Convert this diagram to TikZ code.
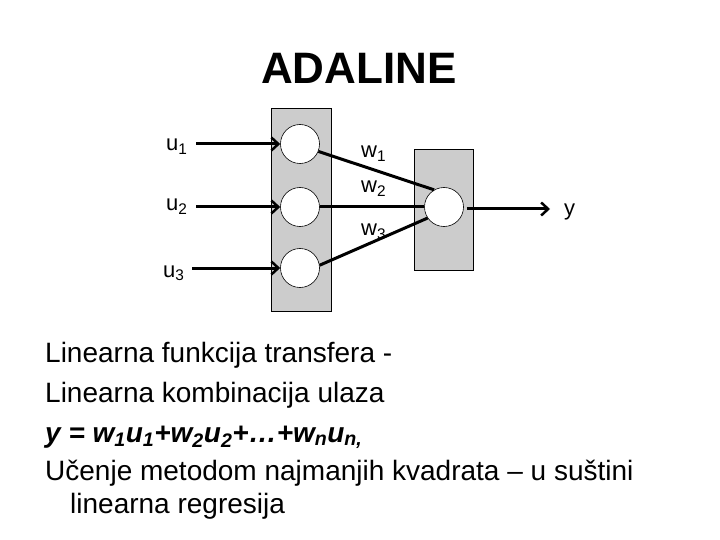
\documentclass[tikz,border=0pt]{standalone}
\usepackage{fontspec}
\setmainfont{Liberation Sans}
\usetikzlibrary{arrows.meta}
\begin{document}
\begin{tikzpicture}[x=1pt,y=-1pt,
  layer/.style={draw=black,line width=0.8pt,fill=black!20},
  neuron/.style={circle,draw=black,line width=0.6pt,fill=white,minimum size=39pt,inner sep=0pt},
  conn/.style={line width=3pt},
  inarrow/.style={line width=3pt,-{Straight Barb[length=7pt,width=13pt,line width=2.5pt]}},
  lbl/.style={font=\fontsize{22}{26}\selectfont,inner sep=0pt,anchor=base west},
  body/.style={font=\fontsize{28}{32}\selectfont,inner sep=0pt,anchor=base west}]
\useasboundingbox (0,0) rectangle (720,540);
% title
\node[font=\fontsize{44}{50}\selectfont\bfseries,inner sep=0pt,anchor=base] (title) at (359,84) {ADALINE};
% layers
\draw[layer] (271,108) rectangle (331,311);
\draw[layer] (414,149) rectangle (473,270);
% neurons
\node[neuron] (c1) at (300,144) {};
\node[neuron] (c2) at (300,207) {};
\node[neuron] (c3) at (300,268) {};
\node[neuron] (c4) at (444,207) {};
% input labels
\node[lbl] (u1) at (166,151) {u\textsubscript{1}};
\node[lbl] (u2) at (166,211) {u\textsubscript{2}};
\node[lbl] (u3) at (163,277) {u\textsubscript{3}};
% weight labels
\node[lbl] (w1) at (361,158) {w\textsubscript{1}};
\node[lbl] (w2) at (361,193) {w\textsubscript{2}};
\node[lbl] (w3) at (361,236) {w\textsubscript{3}};
\node[lbl] (y) at (564,215) {y};
% input arrows
\coordinate (a1) at (196,144);
\coordinate (a2) at (196,207);
\coordinate (a3) at (192,268);
\draw[inarrow] (a1) -- (c1.west);
\draw[inarrow] (a2) -- (c2.west);
\draw[inarrow] (a3) -- (c3.west);
% weights
\draw[conn] (c1.-22) -- (c4.120);
\draw[conn] (c2.east) -- (c4.west);
\draw[conn] (c3.8) -- (c4.214);
% output
\coordinate (out) at (550,209);
\draw[inarrow] ([xshift=3pt,yshift=-2pt]c4.east) -- (out);
% text
\node[body] (t1) at (45,362) {Linearna funkcija transfera -};
\node[body] (t2) at (45,402) {Linearna kombinacija ulaza};
\node[body,font=\fontsize{28}{32}\selectfont\bfseries\itshape] (t3) at (45,442) {y = w\textsubscript{1}u\textsubscript{1}+w\textsubscript{2}u\textsubscript{2}+…+w\textsubscript{n}u\textsubscript{n,}};
\node[body] (t4) at (45,480) {Učenje metodom najmanjih kvadrata – u suštini};
\node[body] (t5) at (70,513) {linearna regresija};
\end{tikzpicture}
\end{document}
